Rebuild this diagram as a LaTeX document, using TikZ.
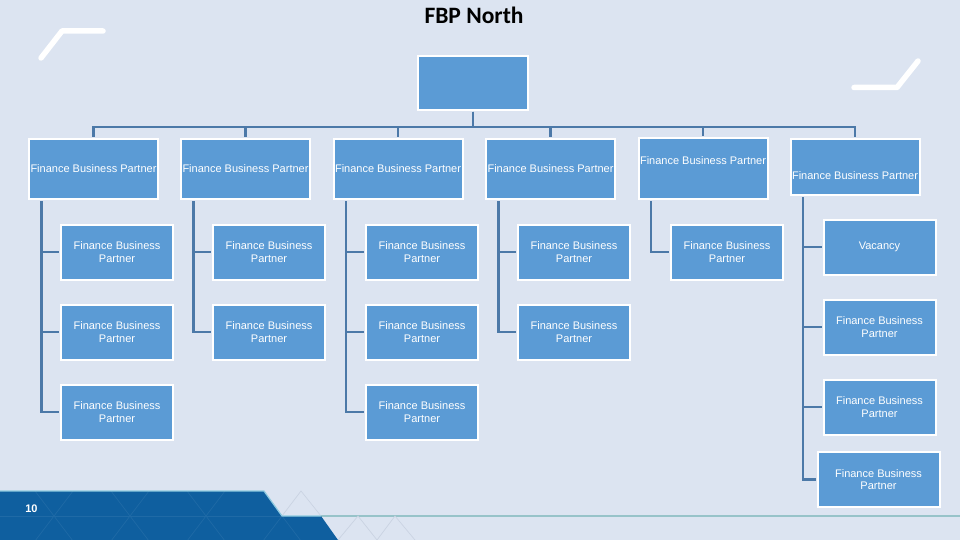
\documentclass[tikz,border=0pt]{standalone}
\usepackage{fontspec}
\setmainfont{Liberation Sans}
\newfontfamily\titlefont{Carlito}
\definecolor{pagebg}{HTML}{DCE4F1}
\definecolor{boxblue}{HTML}{5B9BD5}
\definecolor{linkblue}{HTML}{4C79A8}
\definecolor{footblue}{HTML}{0F5F9F}
\definecolor{footline}{HTML}{1F6AA6}
\definecolor{footedge}{HTML}{8FCBE0}
\definecolor{rulegreen}{HTML}{97C3C9}
\definecolor{trigrey}{HTML}{CAD3E2}
\tikzset{
	fbpbox/.style={draw=white, line width=2pt, fill=boxblue, text=white, inner sep=0pt, align=center, font=\fontsize{11}{12.2}\selectfont},
	topbox/.style={fbpbox, minimum width=129pt, minimum height=60pt},
	subbox/.style={fbpbox, minimum width=112pt, minimum height=55pt},
	link/.style={draw=linkblue, line width=2.2pt, shorten >=1pt, shorten <=1pt},
}

\begin{document}
\begin{tikzpicture}[x=1pt, y=-1pt]
			\useasboundingbox[fill=pagebg] (0,0) rectangle (960,540);

			\draw[rulegreen, line width=1.5pt] (321,516) -- (960,516);
			\draw[trigrey, line width=0.7pt] (282,516) -- (301,491) -- (321,516);
			\draw[trigrey, line width=0.7pt] (338,540) -- (358,516) -- (377,540) -- (395,516) -- (415,540);
			\fill[footblue] (0,491) -- (264,491) -- (282,516) -- (321,516) -- (338,540) -- (0,540) -- cycle;
			\begin{scope}
				\clip (0,491) -- (264,491) -- (282,516) -- (321,516) -- (338,540) -- (0,540) -- cycle;
				\draw[footline, line width=0.7pt] (0,516) -- (321,516);
				\foreach \cx in {-22,54,130,206,282}
					\draw[footline, line width=0.7pt] (\cx-19,491) -- (\cx+19,541) (\cx+19,491) -- (\cx-19,541);
			\end{scope}
			\draw[footedge, line width=1.2pt] (0,491) -- (264,491) -- (282,516) -- (321,516);

			\draw[white, line width=5.500pt, line cap=round, line join=round] (41,58) -- (62,31) -- (103,31);
			\draw[white, line width=5.500pt, line cap=round, line join=round] (854,87.500) -- (897,87.500) -- (918,61);

			\node[font=\titlefont\bfseries\fontsize{23.500}{25}\selectfont] (title) at (474,15) {FBP North};
			\node[font=\bfseries\fontsize{11}{12}\selectfont, text=white] (pagenum) at (31.500,508.500) {10};

			\node[fbpbox, minimum width=110pt, minimum height=54pt] (root) at (473,83) {};
			\coordinate (bus) at (473,127);

			\node[topbox] (top1) at (93.500,169) {Finance Business Partner};
			\node[topbox] (top2) at (245.500,169) {\raisebox{-3pt}[0pt][0pt]{Finance Business Partner}};
			\node[topbox] (top3) at (398,169) {Finance Business Partner};
			\node[topbox] (top4) at (550.500,169) {Finance Business Partner};
			\node[topbox, minimum height=61pt] (top5) at (703,168.500) {\raisebox{4.500pt}[0pt][0pt]{Finance Business Partner}};
			\node[topbox, minimum height=56pt] (top6) at (855,167) {\raisebox{-13pt}[0pt][0pt]{Finance Business Partner}};

			\foreach \name in {top1,top2,top3,top4,top5,top6}
				\draw[link] (root.south) -- (bus) -| (\name.north);

			\foreach \name/\cx/\cy/\parent in {
				a1/117/252/top1, a2/117/332/top1, a3/117/412/top1,
				b1/269/252/top2, b2/269/332/top2,
				c1/422/252/top3, c2/422/332/top3, c3/422/412/top3,
				d1/574/252/top4, d2/574/332/top4,
				e1/727/252/top5,
				f2/879.500/327/top6, f3/879.500/407/top6}
			{
				\node[subbox] (\name) at (\cx,\cy) {Finance Business\\Partner};
				\draw[link] ([xshift=13.500pt]\parent.south west) |- (\name.west);
			}

			\node[subbox] (f1) at (879.500,247) {Vacancy};
			\draw[link] ([xshift=13.500pt]top6.south west) |- (f1.west);

			\node[fbpbox, minimum width=122pt, minimum height=55pt] (f4) at (878.500,479.500) {Finance Business\\Partner};
			\draw[link] ([xshift=13.500pt]top6.south west) |- (f4.west);
		\end{tikzpicture}
\end{document}
